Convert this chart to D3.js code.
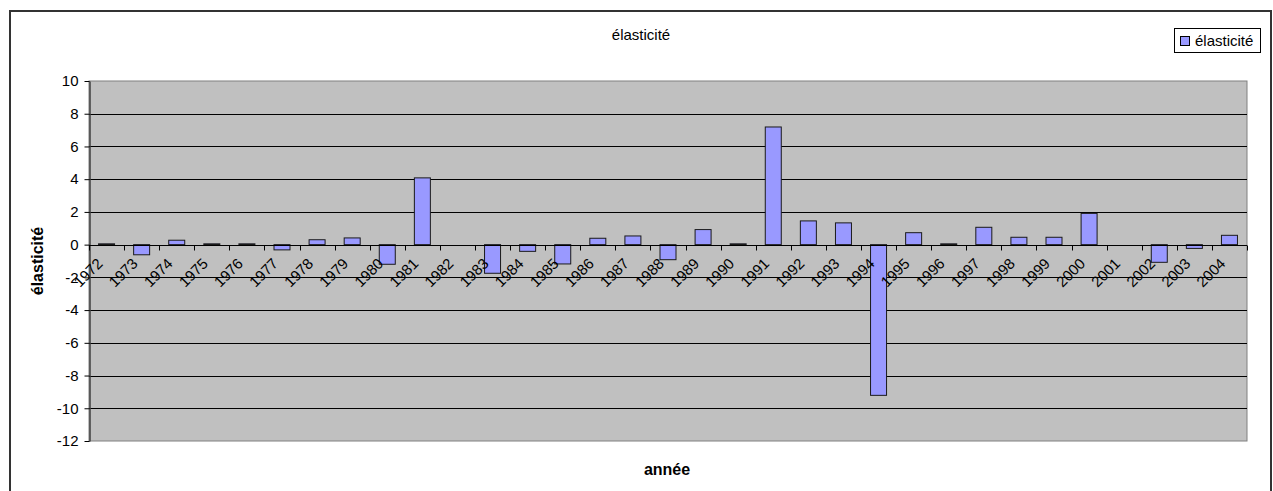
<!DOCTYPE html>
<html>
<head>
<meta charset="utf-8">
<script src="https://cdn.jsdelivr.net/npm/d3@7/dist/d3.min.js"></script>
<style>
  html, body { margin: 0; padding: 0; background: #fff; }
  svg { display: block; font-family: "Liberation Sans", Arial, sans-serif; }
</style>
</head>
<body>
<svg id="chart" width="1273" height="491"></svg>
<script>
const years = ["1972","1973","1974","1975","1976","1977","1978","1979","1980","1981","1982","1983","1984","1985","1986","1987","1988","1989","1990","1991","1992","1993","1994","1995","1996","1997","1998","1999","2000","2001","2002","2003","2004"];
const elasticite = [0.05,-0.62,0.27,0.05,0.05,-0.32,0.3,0.41,-1.2,4.08,0,-1.75,-0.41,-1.18,0.39,0.53,-0.92,0.92,0.05,7.19,1.45,1.33,-9.21,0.73,0.05,1.06,0.45,0.45,1.91,0,-1.08,-0.23,0.57];
const yTicks = [10,8,6,4,2,0,-2,-4,-6,-8,-10,-12];
const seriesName = "élasticité";
const chartTitle = "élasticité";
const xTitle = "année";
const yTitle = "élasticité";

const svg = d3.select("#chart");
const plot = {left: 89, right: 1247, top: 81, bottom: 441};

// outer frame
svg.append("rect").attr("x", 10).attr("y", 11).attr("width", 1261).attr("height", 500)
  .attr("fill", "#fff").attr("stroke", "#333").attr("stroke-width", 2);

const x = d3.scaleBand().domain(years).range([plot.left, plot.right]).paddingInner(0).paddingOuter(0);
const y = d3.scaleLinear().domain([-12, 10]).range([plot.bottom, plot.top]);

// plot background
svg.append("rect").attr("x", plot.left).attr("y", plot.top)
  .attr("width", plot.right - plot.left).attr("height", plot.bottom - plot.top)
  .attr("fill", "#c0c0c0").attr("stroke", "#808080").attr("stroke-width", 1);

// gridlines
svg.append("g").selectAll("line").data(yTicks.filter(t => t !== 10 && t !== -12)).join("line")
  .attr("x1", plot.left).attr("x2", plot.right)
  .attr("y1", d => Math.round(y(d)) + 0.5).attr("y2", d => Math.round(y(d)) + 0.5)
  .attr("stroke", "#000").attr("stroke-width", 1);

// y axis
const yAxis = svg.append("g").attr("transform", `translate(${plot.left + 0.5},0)`)
  .call(d3.axisLeft(y).tickValues(yTicks).tickFormat(d => String(d)).tickSize(5).tickPadding(6).tickSizeOuter(0));
yAxis.select(".domain").attr("stroke", "#404040").attr("stroke-width", 1.5);
yAxis.selectAll(".tick line").attr("stroke", "#000");
yAxis.selectAll("text").attr("font-size", 15).attr("fill", "#000")
  .attr("font-family", '"Liberation Sans", Arial, sans-serif');

// bars
const bw = 16;
svg.append("g").selectAll("rect").data(years).join("rect")
  .attr("x", d => x(d) + x.bandwidth() / 2 - bw / 2)
  .attr("width", bw)
  .attr("y", (d, i) => y(Math.max(0, elasticite[i])))
  .attr("height", (d, i) => Math.abs(y(elasticite[i]) - y(0)))
  .attr("fill", "#9999ff").attr("stroke", "#1a1a1a").attr("stroke-width", 1);

// x axis line at 0 with ticks at category boundaries
const y0 = Math.round(y(0)) + 0.5;
svg.append("line").attr("x1", plot.left).attr("x2", plot.right).attr("y1", y0).attr("y2", y0)
  .attr("stroke", "#000").attr("stroke-width", 1);
svg.append("g").selectAll("line").data(years.concat(["end"])).join("line")
  .attr("x1", (d, i) => Math.round(plot.left + i * x.bandwidth()) + 0.5)
  .attr("x2", (d, i) => Math.round(plot.left + i * x.bandwidth()) + 0.5)
  .attr("y1", y0).attr("y2", y0 + 5)
  .attr("stroke", "#000");

// x labels rotated
svg.append("g").selectAll("text").data(years).join("text")
  .attr("transform", d => `translate(${x(d) + x.bandwidth() / 2 - 3},${y0 + 19}) rotate(-45)`)
  .attr("text-anchor", "end")
  .attr("font-size", 15).attr("fill", "#000")
  .text(d => d);

// title
svg.append("text").attr("x", 641).attr("y", 40).attr("text-anchor", "middle")
  .attr("font-size", 15).attr("fill", "#000").text(chartTitle);

// axis titles
svg.append("text").attr("x", 667).attr("y", 475).attr("text-anchor", "middle")
  .attr("font-size", 16).attr("font-weight", "bold").attr("fill", "#000").text(xTitle);
svg.append("text").attr("transform", "translate(43,261) rotate(-90)").attr("text-anchor", "middle")
  .attr("font-size", 16).attr("font-weight", "bold").attr("fill", "#000").text(yTitle);

// legend
const lg = svg.append("g");
lg.append("rect").attr("x", 1174.5).attr("y", 28.5).attr("width", 86).attr("height", 24)
  .attr("fill", "#fff").attr("stroke", "#000");
lg.append("rect").attr("x", 1180.5).attr("y", 36.5).attr("width", 9).attr("height", 9)
  .attr("fill", "#9999ff").attr("stroke", "#000");
lg.append("text").attr("x", 1195).attr("y", 46).attr("font-size", 15).attr("fill", "#000").text(seriesName);
</script>
</body>
</html>
